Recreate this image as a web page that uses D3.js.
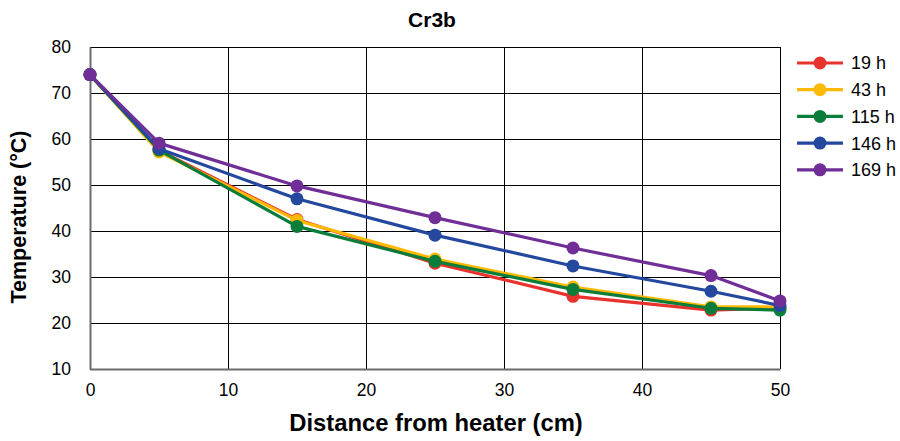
<!DOCTYPE html>
<html>
<head>
<meta charset="utf-8">
<script src="https://cdn.jsdelivr.net/npm/d3@7/dist/d3.min.js"></script>
<style>
  html, body { margin: 0; padding: 0; background: #fff; }
  svg { display: block; font-family: "Liberation Sans", Arial, sans-serif; }
</style>
</head>
<body>
<svg id="chart" width="900" height="441"></svg>
<script>
// Distance from heater (cm)
const distances = [0, 5, 15, 25, 35, 45, 50];

// Temperature (°C) per elapsed time
const seriesNames = ["19 h", "43 h", "115 h", "146 h", "169 h"];
const temp19 = [74.0, 57.5, 42.5, 33.0, 25.8, 22.8, 23.3];
const temp43 = [74.0, 57.2, 42.3, 33.9, 27.8, 23.5, 23.5];
const temp115 = [74.0, 57.6, 41.0, 33.4, 27.3, 23.2, 22.8];
const temp146 = [74.0, 57.9, 47.0, 39.1, 32.4, 26.9, 23.8];
const temp169 = [74.0, 59.1, 49.8, 42.9, 36.3, 30.3, 24.8];
const seriesColors = ["#e8322e", "#ffb900", "#0b7d3a", "#23489e", "#6f2f96"];

const xTicks = [0, 10, 20, 30, 40, 50];
const yTicks = [10, 20, 30, 40, 50, 60, 70, 80];

const seriesValues = [temp19, temp43, temp115, temp146, temp169];
const series = seriesNames.map((name, i) => ({
  name,
  color: seriesColors[i],
  points: distances.map((d, j) => ({ x: d, y: seriesValues[i][j] }))
}));

const svg = d3.select("#chart");
const plot = { left: 90, right: 780, top: 47, bottom: 369 };

const x = d3.scaleLinear().domain([0, 50]).range([plot.left, plot.right]);
const y = d3.scaleLinear().domain([10, 80]).range([plot.bottom, plot.top]);

// Gridlines
const grid = svg.append("g");
grid.selectAll("line.h").data(yTicks).join("line")
  .attr("x1", plot.left).attr("x2", plot.right)
  .attr("y1", d => y(d)).attr("y2", d => y(d))
  .attr("stroke", "#000").attr("stroke-width", 1).attr("shape-rendering", "crispEdges");
grid.selectAll("line.v").data(xTicks).join("line")
  .attr("y1", plot.top).attr("y2", plot.bottom)
  .attr("x1", d => x(d)).attr("x2", d => x(d))
  .attr("stroke", "#000").attr("stroke-width", 1).attr("shape-rendering", "crispEdges");

// Axes
const xAxis = svg.append("g")
  .attr("transform", `translate(0,${plot.bottom})`)
  .call(d3.axisBottom(x).tickValues(xTicks).tickSize(0).tickPadding(15).tickFormat(d3.format("d")));
const yAxis = svg.append("g")
  .attr("transform", `translate(${plot.left},0)`)
  .call(d3.axisLeft(y).tickValues(yTicks).tickSize(0).tickPadding(19).tickFormat(d3.format("d")));
[xAxis, yAxis].forEach(a => {
  a.select(".domain").attr("stroke", "#6b6b6b").attr("stroke-width", 2);
  a.selectAll("text").attr("font-size", 17.5).attr("fill", "#000")
    .attr("font-family", "'Liberation Sans', Arial, sans-serif");
});

// Series lines and markers
const line = d3.line().x(d => x(d.x)).y(d => y(d.y));
const sg = svg.append("g").selectAll("g").data(series).join("g");
sg.append("path")
  .attr("d", d => line(d.points))
  .attr("fill", "none")
  .attr("stroke", d => d.color)
  .attr("stroke-width", 3.2)
  .attr("stroke-linejoin", "round");
sg.selectAll("circle").data(d => d.points.map(p => ({ ...p, color: d.color }))).join("circle")
  .attr("cx", d => x(d.x)).attr("cy", d => y(d.y))
  .attr("r", 6.5)
  .attr("fill", d => d.color);

// Title and axis titles
svg.append("text")
  .attr("x", (plot.left + plot.right) / 2 - 3).attr("y", 27)
  .attr("text-anchor", "middle").attr("font-weight", "bold").attr("font-size", 21)
  .text("Cr3b");
svg.append("text")
  .attr("x", 436).attr("y", 431)
  .attr("text-anchor", "middle").attr("font-weight", "bold").attr("font-size", 23.8)
  .text("Distance from heater (cm)");
svg.append("text")
  .attr("transform", `translate(26,${(plot.top + plot.bottom) / 2 + 9}) rotate(-90)`)
  .attr("text-anchor", "middle").attr("font-weight", "bold").attr("font-size", 21.5)
  .text("Temperature (°C)");

// Legend
const legend = svg.append("g").attr("transform", "translate(797,63)");
const li = legend.selectAll("g").data(series).join("g")
  .attr("transform", (d, i) => `translate(0,${i * 26.7})`);
li.append("line").attr("x1", 0).attr("x2", 46).attr("y1", 0).attr("y2", 0)
  .attr("stroke", d => d.color).attr("stroke-width", 3.2);
li.append("circle").attr("cx", 23).attr("cy", 0).attr("r", 6.5).attr("fill", d => d.color);
li.append("text").attr("x", 54).attr("y", 0).attr("dy", "0.36em")
  .attr("font-size", 18).text(d => d.name);
</script>
</body>
</html>
